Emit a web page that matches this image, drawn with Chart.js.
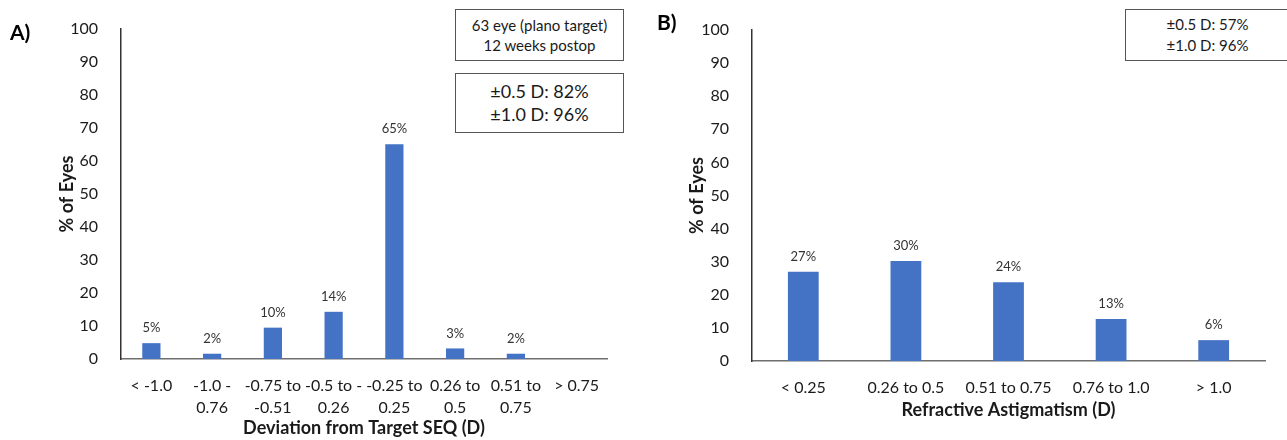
<!DOCTYPE html>
<html>
<head>
<meta charset="utf-8">
<script src="https://cdn.jsdelivr.net/npm/chart.js@4/dist/chart.umd.min.js"></script>
<style>
  body { margin: 0; background: #fff; font-family: Lato, sans-serif; }
  #wrap { position: relative; width: 1287px; height: 440px; overflow: hidden; }
  .panel { position: absolute; top: 0; height: 440px; }
  .tag { position: absolute; font-weight: bold; font-size: 21px; color: #000; }
  .box { position: absolute; border: 1px solid #555; background: #fff; text-align: center; color: #1a1a1a; box-sizing: border-box; }
</style>
</head>
<body>
<div id="wrap">
  <div class="panel" style="left:0;width:640px"><canvas id="chartA"></canvas></div>
  <div class="panel" style="left:640px;width:647px"><canvas id="chartB"></canvas></div>
  <div class="tag" style="left:10px;top:19px">A)</div>
  <div class="tag" style="left:657px;top:9px">B)</div>
  <div class="box" style="left:455px;top:9px;width:169px;height:52px;font-size:15px;line-height:20px;padding-top:5px">63 eye (plano target)<br>12 weeks postop</div>
  <div class="box" style="left:455px;top:73px;width:169px;height:60px;font-size:18px;line-height:23px;padding-top:6px">±0.5 D: 82%<br>±1.0 D: 96%</div>
  <div class="box" style="left:1125px;top:9px;width:165px;height:52px;font-size:15px;line-height:21px;padding-top:4px">±0.5 D: 57%<br>±1.0 D: 96%</div>
</div>
<script>
const seqLabels = [['< -1.0'], ['-1.0 -', '0.76'], ['-0.75 to', '-0.51'], ['-0.5 to -', '0.26'], ['-0.25 to', '0.25'], ['0.26 to', '0.5'], ['0.51 to', '0.75'], ['> 0.75']];
const seqValues = [4.8, 1.6, 9.5, 14.3, 65.1, 3.2, 1.6, 0];

const astigLabels = ['< 0.25', '0.26 to 0.5', '0.51 to 0.75', '0.76 to 1.0', '> 1.0'];
const astigValues = [27.0, 30.2, 23.8, 12.7, 6.3];

const yTicks = [0, 10, 20, 30, 40, 50, 60, 70, 80, 90, 100];

const barColor = '#4472C4';
const axisColor = '#6e6e6e';
const textColor = '#1a1a1a';

// percent labels above each bar
const barLabels = {
    id: 'barLabels',
    afterDatasetsDraw(chart) {
        const ctx = chart.ctx;
        const meta = chart.getDatasetMeta(0);
        const values = chart.data.datasets[0].data;
        ctx.save();
        ctx.font = '13px Lato';
        ctx.fillStyle = '#333';
        ctx.textAlign = 'center';
        ctx.textBaseline = 'middle';
        meta.data.forEach((bar, i) => {
            if (!values[i]) return;
            ctx.fillText(Math.round(values[i]) + '%', bar.x, bar.y - 15);
        });
        ctx.restore();
    }
};

function makeChart(id, labels, values, opts) {
    return new Chart(document.getElementById(id), {
        type: 'bar',
        data: {
            labels: labels,
            datasets: [{
                data: values,
                backgroundColor: barColor,
                borderWidth: 0,
                barPercentage: 0.3,
                categoryPercentage: 1
            }]
        },
        options: {
            responsive: true,
            maintainAspectRatio: false,
            animation: false,
            layout: { padding: { left: 0, top: opts.top, right: opts.right, bottom: 0 } },
            scales: {
                x: {
                    grid: { display: false },
                    border: { display: true, color: axisColor, width: 1.5 },
                    ticks: {
                        color: textColor, padding: 8, maxRotation: 0, autoSkip: false,
                        font: { family: 'Lato', size: 16, lineHeight: 1.35 }
                    },
                    title: {
                        display: true, text: opts.xTitle, color: textColor,
                        font: { family: 'Lato', size: 18, weight: 'bold' },
                        padding: { top: 0, bottom: opts.xTitlePad }
                    },
                    afterFit: (s) => { s.height = 440 - opts.bottom; }
                },
                y: {
                    min: 0, max: 100,
                    afterBuildTicks: (s) => { s.ticks = yTicks.map(v => ({ value: v })); },
                    grid: { display: false },
                    border: { display: true, color: '#333', width: 1.5 },
                    ticks: {
                        color: textColor, padding: 15,
                        font: { family: 'Lato', size: 16 }
                    },
                    title: {
                        display: true, text: '% of Eyes', color: textColor,
                        font: { family: 'Lato', size: 18, weight: 'bold' },
                        padding: { top: opts.yTitleX - 11, bottom: 0 }
                    },
                    afterFit: (s) => { s.width = opts.left; }
                }
            },
            plugins: {
                legend: { display: false },
                tooltip: { enabled: false }
            }
        },
        plugins: [barLabels]
    });
}

makeChart('chartA', seqLabels, seqValues, {
    left: 121, right: 33, top: 29, bottom: 359,
    xTitle: 'Deviation from Target SEQ (D)', xTitlePad: 1, yTitleX: 67
});

makeChart('chartB', astigLabels, astigValues, {
    left: 112, right: 22, top: 30, bottom: 361,
    xTitle: 'Refractive Astigmatism (D)', xTitlePad: 19, yTitleX: 57
});
</script>
</body>
</html>
